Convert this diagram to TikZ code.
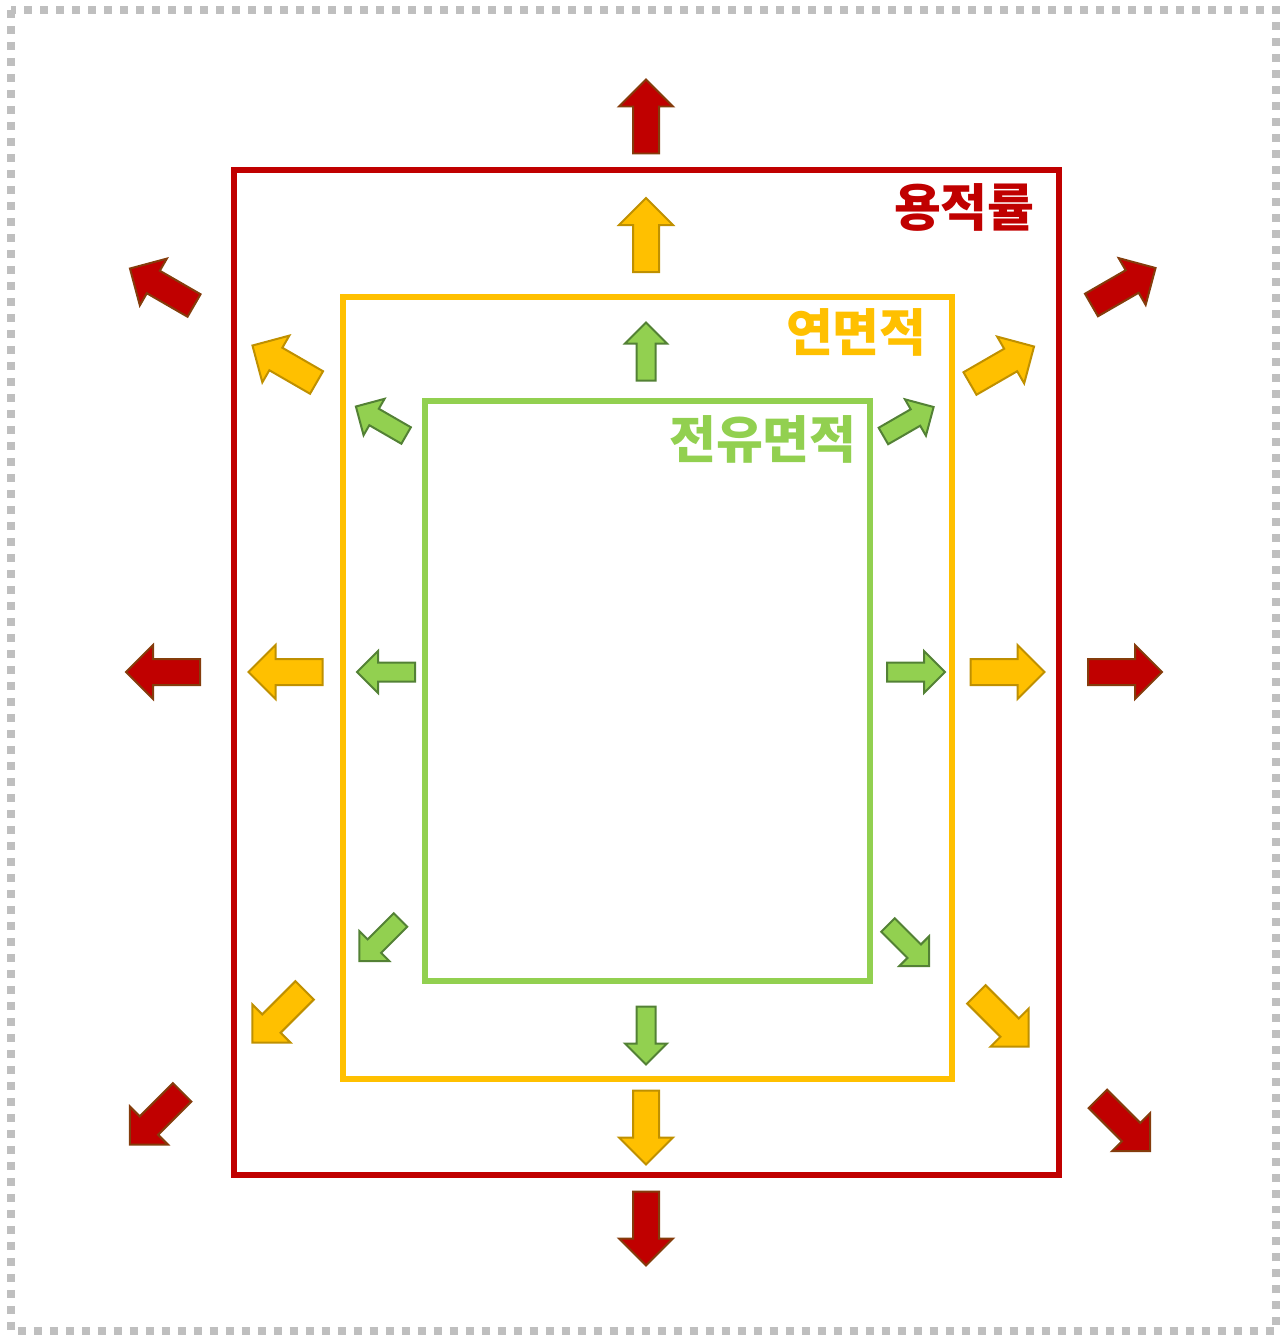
\documentclass[tikz,border=0pt]{standalone}
\usepackage{fontspec}
\newfontfamily\kr{Noto Sans CJK KR}
\definecolor{farred}{HTML}{C00000}
\definecolor{farbrown}{HTML}{843C0C}
\definecolor{gfayellow}{HTML}{FFC000}
\definecolor{gfaline}{HTML}{BF9000}
\definecolor{unitgreen}{HTML}{92D050}
\definecolor{unitline}{HTML}{538135}
\definecolor{framegray}{HTML}{BFBFBF}
\tikzset{
	pics/bigarrow/.style={code={\draw[pic actions] (-37,-13) -- (10,-13) -- (10,-27) -- (37,0) -- (10,27) -- (10,13) -- (-37,13) -- cycle;}},
	pics/smallarrow/.style={code={\draw[pic actions] (-29,-9.5) -- (8,-9.5) -- (8,-21) -- (29,0) -- (8,21) -- (8,9.5) -- (-29,9.5) -- cycle;}},
	redarrow/.style={fill=farred, draw=farbrown, line width=0.04cm, line join=miter},
	yellowarrow/.style={fill=gfayellow, draw=gfaline, line width=0.04cm, line join=miter},
	greenarrow/.style={fill=unitgreen, draw=unitline, line width=0.04cm, line join=miter},
	arealabel/.style={anchor=base east, inner sep=0, font=\kr\bfseries\fontsize{29pt}{32pt}\selectfont},
}

\begin{document}
\begin{tikzpicture}[x=0.02cm, y=-0.02cm]
	\useasboundingbox (0,0) rectangle (1279,1335);
	% outer frame
	\draw[framegray, line width=0.16cm, dash pattern=on 0.16cm off 0.16cm] (11,10) rectangle (1276,1331);
	% areas
	\draw[farred, line width=0.125cm] (234,170) rectangle (1059,1175);
	\draw[gfayellow, line width=0.125cm] (343,297) rectangle (952,1079);
	\draw[unitgreen, line width=0.125cm] (425,401) rectangle (870,981);
	\node[arealabel, text=farred] (farlabel) at (1035,226) {용적률};
	\node[arealabel, text=gfayellow] (gfalabel) at (927,351) {연면적};
	\node[arealabel, text=unitgreen] (unitlabel) at (857,458) {전유면적};
	% red arrows
	\foreach \x/\y/\a in {646/116.5/90, 162/287/150, 1123.5/286.5/30, 163/672/180, 1125/672/0, 156/1118.5/225, 1124/1125/-45, 646/1228.5/-90}
		\pic[rotate=\a, redarrow] at (\x,\y) {bigarrow};
	% yellow arrows
	\foreach \x/\y/\a in {646/235/90, 284.5/364/150, 1002/365/30, 285.5/672/180, 1007.5/672/0, 278.5/1016.5/225, 1002.5/1020.5/-45, 646/1127.5/-90}
		\pic[rotate=\a, yellowarrow] at (\x,\y) {bigarrow};
	% green arrows
	\foreach \x/\y/\a in {646/351.5/90, 381/421/150, 908.5/421.5/30, 386/672/180, 916/672/0, 380/940.5/225, 908.5/945.5/-45, 646/1035.5/-90}
		\pic[rotate=\a, greenarrow] at (\x,\y) {smallarrow};
\end{tikzpicture}
\end{document}
